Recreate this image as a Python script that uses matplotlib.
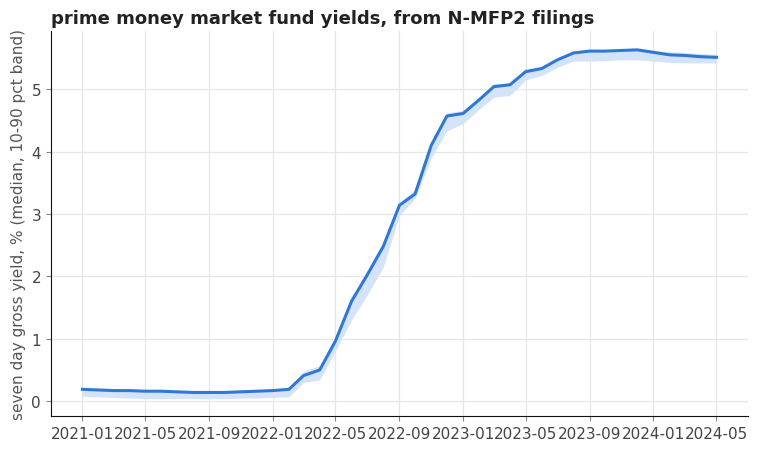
import pandas as pd
import matplotlib
matplotlib.use("Agg")
import matplotlib.pyplot as plt
import matplotlib.dates as mdates

# monthly medians and 10/90 percentiles of seven day gross yield, %
months = pd.date_range("2021-01-01", "2024-05-01", freq="MS")
median = [0.19, 0.18, 0.17, 0.17, 0.16, 0.16, 0.15, 0.14, 0.14, 0.14, 0.15, 0.16,
          0.17, 0.19, 0.41, 0.50, 0.96, 1.60, 2.02, 2.48, 3.14, 3.32, 4.10, 4.57,
          4.61, 4.83, 5.04, 5.07, 5.28, 5.33, 5.47, 5.58, 5.61, 5.61, 5.62, 5.63,
          5.59, 5.55, 5.54, 5.52, 5.51]
p10 = [0.08, 0.07, 0.06, 0.05, 0.04, 0.04, 0.04, 0.04, 0.04, 0.04, 0.05, 0.05,
       0.06, 0.07, 0.30, 0.34, 0.80, 1.30, 1.70, 2.15, 2.98, 3.25, 3.90, 4.33,
       4.45, 4.68, 4.87, 4.90, 5.15, 5.22, 5.35, 5.45, 5.45, 5.46, 5.47, 5.47,
       5.45, 5.43, 5.42, 5.42, 5.42]
p90 = [0.21, 0.20, 0.19, 0.19, 0.18, 0.18, 0.17, 0.16, 0.16, 0.16, 0.17, 0.18,
       0.19, 0.21, 0.48, 0.57, 1.00, 1.65, 2.10, 2.55, 3.18, 3.40, 4.15, 4.62,
       4.66, 4.87, 5.09, 5.10, 5.33, 5.37, 5.50, 5.60, 5.62, 5.62, 5.64, 5.65,
       5.62, 5.60, 5.59, 5.57, 5.56]

fig = plt.figure(figsize=(7.58, 4.52), dpi=100)
ax = fig.add_axes([0.067, 0.077, 0.920, 0.852])

ax.fill_between(months, p10, p90, color="#d4e3f8", linewidth=0)
ax.plot(months, median, color="#2f78d6", linewidth=2.2)

ax.xaxis.set_major_locator(mdates.MonthLocator(bymonth=[1, 5, 9]))
ax.xaxis.set_major_formatter(mdates.DateFormatter("%Y-%m"))
ax.set_yticks([0, 1, 2, 3, 4, 5])

ax.grid(True, color="#e6e6e6", linewidth=0.9)
ax.set_axisbelow(True)
for side in ["top", "right"]:
    ax.spines[side].set_visible(False)
for side in ["left", "bottom"]:
    ax.spines[side].set_color("#111111")
ax.tick_params(colors="#888888", labelcolor="#444444", labelsize=11)

ax.set_ylabel("seven day gross yield, % (median, 10-90 pct band)", color="#555555", fontsize=11)
ax.set_title("prime money market fund yields, from N-MFP2 filings",
             loc="left", fontweight="bold", fontsize=13, color="#222222", pad=6)

fig.savefig("out.png", dpi=100)
